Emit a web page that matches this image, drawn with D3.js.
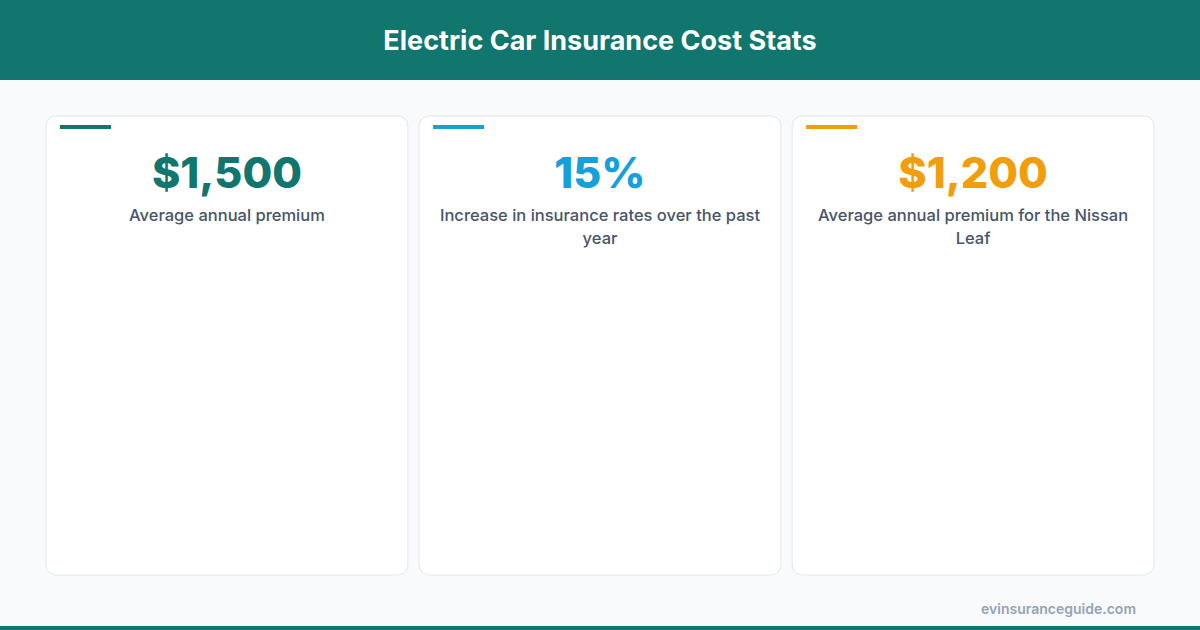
<!DOCTYPE html>
<html>
<head>
<meta charset="utf-8">
<script src="https://cdn.jsdelivr.net/npm/d3@7"></script>
<style>
  body { margin: 0; background: #f8fafc; }
  svg { display: block; font-family: Inter, "Noto Sans", sans-serif; }
</style>
</head>
<body>
<svg id="chart" width="1200" height="630"></svg>
<script>
// Stat values and captions
var statValues = ["$1,500", "15%", "$1,200"];
var statLabels = [
  "Average annual premium",
  "Increase in insurance rates over the past year",
  "Average annual premium for the Nissan Leaf"
];
var statColors = ["#10766e", "#14a0dc", "#f29e0c"];

var W = 1200, H = 630;
var svg = d3.select("#chart");

svg.append("rect").attr("width", W).attr("height", H).attr("fill", "#f8fafc");

// Header
svg.append("rect").attr("width", W).attr("height", 80).attr("fill", "#10766e");
svg.append("text")
  .attr("x", W / 2).attr("y", 50)
  .attr("text-anchor", "middle")
  .attr("fill", "#fff")
  .attr("font-size", 27).attr("font-weight", 700)
  .text("Electric Car Insurance Cost Stats");

// Card positions via band scale
var x = d3.scaleBand()
  .domain(d3.range(statValues.length))
  .range([46, 1154])
  .paddingInner(0.03);

var cards = svg.selectAll("g.card")
  .data(statValues)
  .join("g")
  .attr("class", "card")
  .attr("transform", (d, i) => `translate(${x(i)},116)`);

cards.append("rect")
  .attr("width", x.bandwidth()).attr("height", 459)
  .attr("rx", 10)
  .attr("fill", "#fff")
  .attr("stroke", "#e2e8f0");

cards.append("rect")
  .attr("x", 14).attr("y", 9)
  .attr("width", 51).attr("height", 4)
  .attr("fill", (d, i) => statColors[i]);

cards.append("text")
  .attr("x", x.bandwidth() / 2).attr("y", 72)
  .attr("text-anchor", "middle")
  .attr("font-size", 43).attr("font-weight", 800)
  .attr("fill", (d, i) => statColors[i])
  .text(d => d);

// Caption with word wrapping
cards.each(function (d, i) {
  var t = d3.select(this).append("text")
    .attr("text-anchor", "middle")
    .attr("font-size", 16.5).attr("font-weight", 500)
    .attr("fill", "#475569");
  var words = statLabels[i].split(" ");
  var line = [], lineNo = 0, maxW = x.bandwidth() - 24;
  var tspan = t.append("tspan").attr("x", x.bandwidth() / 2).attr("y", 105);
  words.forEach(w => {
    line.push(w);
    tspan.text(line.join(" "));
    if (tspan.node().getComputedTextLength() > maxW && line.length > 1) {
      line.pop();
      tspan.text(line.join(" "));
      line = [w];
      lineNo++;
      tspan = t.append("tspan").attr("x", x.bandwidth() / 2)
        .attr("y", 105 + lineNo * 23).text(w);
    }
  });
});

// Footer
svg.append("text")
  .attr("x", 1136).attr("y", 614)
  .attr("text-anchor", "end")
  .attr("font-size", 14).attr("font-weight", 600)
  .attr("fill", "#94a3b8")
  .text("evinsuranceguide.com");
svg.append("rect").attr("y", 626).attr("width", W).attr("height", 4).attr("fill", "#10766e");
</script>
</body>
</html>
